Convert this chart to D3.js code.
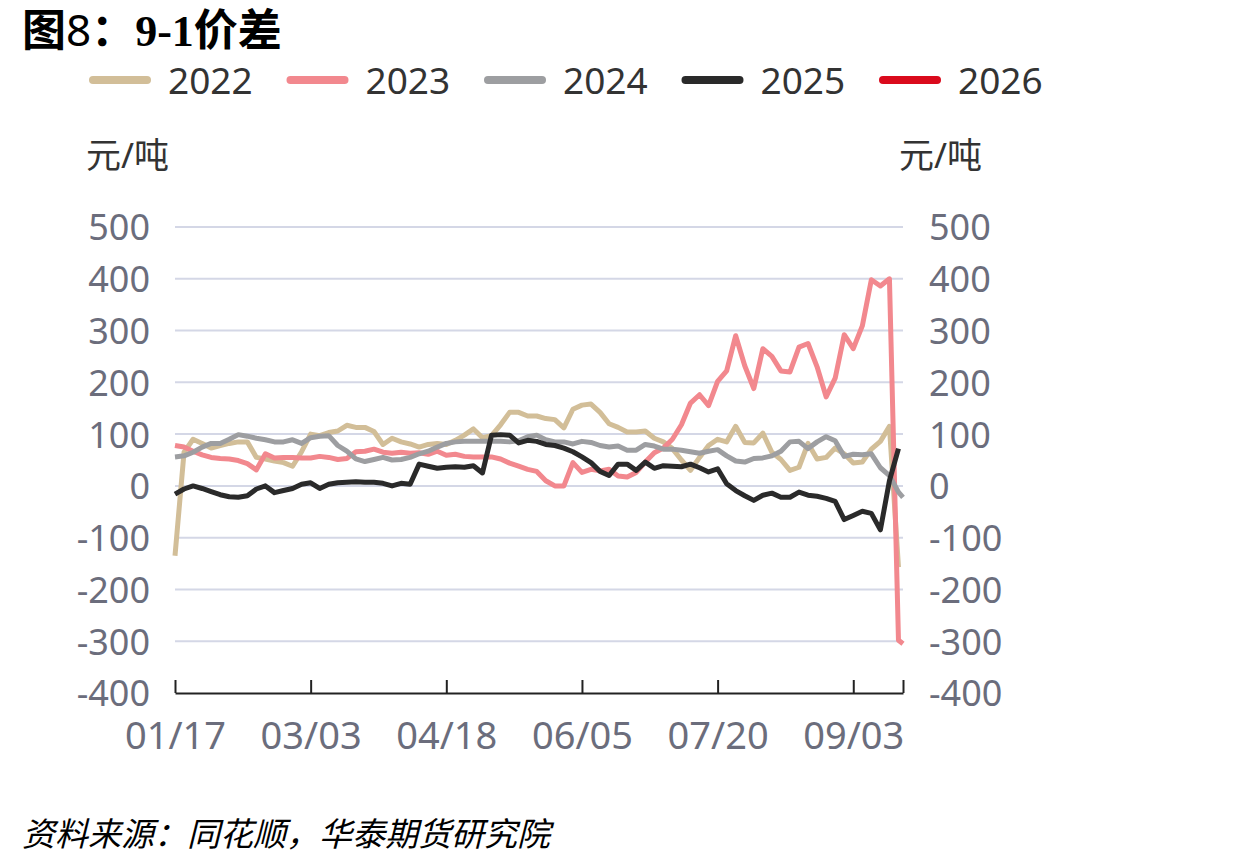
<!DOCTYPE html>
<html>
<head>
<meta charset="utf-8">
<script src="https://cdn.jsdelivr.net/npm/d3@7"></script>
<style>
  body { margin: 0; background: #fff; }
  svg text { font-family: "Noto Sans", "Noto Sans CJK SC", sans-serif; }
</style>
</head>
<body>
<svg id="chart" width="1240" height="866"></svg>
<script>
var sampleDays = d3.range(0, 161, 2).concat([161]);

// tick labels on the category axis (every 30 trading days)
var tickDays = [0, 30, 60, 90, 120, 150];
var tickLabels = ["01/17", "03/03", "04/18", "06/05", "07/20", "09/03"];

var years = ["2022", "2023", "2024", "2025", "2026"];
var colors = ["#D2BE98", "#F2888E", "#9D9EA1", "#2A2A2A", "#DA0A1C"];

// 9-1 spread, yuan/ton
var s2022 = [-135, 65, 90, 82, 73, 78, 82, 85, 85, 55,
             52, 48, 45, 38, 66, 100, 97, 103, 106, 117,
             113, 113, 105, 80, 92, 85, 81, 75, 80, 82,
             80, 88, 98, 110, 93, 97, 118, 142, 142, 135,
             135, 130, 128, 112, 148, 156, 158, 142, 120, 113,
             104, 104, 106, 92, 85, 72, 50, 30, 55, 78,
             90, 85, 115, 84, 83, 102, 65, 51, 30, 36,
             82, 52, 55, 73, 62, 44, 46, 71, 86, 115,
             -157, null];
var s2023 = [78, 75, 67, 60, 55, 53, 52, 49, 43, 31,
             62, 54, 55, 55, 54, 54, 57, 55, 51, 53,
             66, 67, 71, 65, 63, 65, 63, 64, 61, 67,
             59, 61, 57, 56, 56, 56, 52, 44, 38, 32,
             28, 10, 0, 0, 45, 26, 32, 29, 32, 19,
             17, 26, 46, 64, 73, 90, 118, 160, 176, 155,
             202, 222, 290, 232, 188, 265, 250, 222, 220, 268,
             275, 230, 172, 208, 292, 265, 309, 398, 386, 400,
             -298, -305];
var s2024 = [56, 58, 65, 75, 82, 82, 90, 99, 96, 92,
             89, 85, 85, 89, 82, 93, 96, 97, 78, 67,
             52, 47, 51, 55, 50, 51, 55, 62, 67, 75,
             82, 85, 86, 86, 86, 86, 86, 85, 87, 95,
             98, 89, 85, 85, 81, 86, 84, 78, 75, 77,
             69, 69, 80, 77, 71, 71, 69, 66, 63, 67,
             70, 58, 48, 46, 53, 54, 58, 67, 85, 86,
             72, 85, 95, 87, 57, 61, 60, 62, 35, 20,
             -12, -22];
var s2025 = [-16, -6, 0, -5, -11, -17, -21, -22, -19, -6,
             0, -13, -9, -5, 3, 6, -5, 3, 6, 7,
             8, 7, 7, 5, 0, 5, 3, 42, 38, 34,
             36, 37, 36, 39, 25, 98, 99, 98, 83, 88,
             86, 80, 78, 73, 66, 56, 45, 28, 20, 42,
             42, 30, 46, 34, 39, 38, 37, 42, 35, 27,
             33, 4, -9, -19, -28, -18, -14, -22, -22, -12,
             -18, -20, -24, -30, -65, -57, -49, -53, -85, 10,
             72, null];
var s2026 = [];

var seriesValues = [s2022, s2023, s2024, s2025, s2026];

var yTicks = [500, 400, 300, 200, 100, 0, -100, -200, -300, -400];

function drawChart() {
    var svg = d3.select("#chart");

    // plot area
    var plotLeft = 175, plotRight = 903, plotTop = 227, plotBottom = 693;

    var xScale = d3.scaleLinear().domain([0, 161]).range([plotLeft, plotRight]);
    var yScale = d3.scaleLinear().domain([-400, 500]).range([plotBottom, plotTop]);

    // plain hyphen for negatives, like the original
    var fmt = function (d) { return String(d); };

    // title
    var title = svg.append("text")
        .attr("x", 22)
        .attr("y", 46)
        .style("font-family", "'Liberation Serif', 'Noto Sans CJK SC', serif")
        .style("font-size", "44px")
        .style("font-weight", "bold")
        .attr("fill", "#000");
    title.append("tspan").style("font-family", "'Noto Sans CJK SC'").text("图");
    title.append("tspan").style("font-weight", "normal").style("font-family", "'Noto Sans'").text("8");
    title.append("tspan").style("font-family", "'Noto Sans CJK SC'").text("：");
    title.append("tspan").text("9-1");
    title.append("tspan").style("font-family", "'Noto Sans CJK SC'").text("价差");

    // legend
    var legend = svg.append("g");
    years.forEach(function (yr, i) {
        var lx = 89 + i * 197.5;
        legend.append("line")
            .attr("x1", lx + 4).attr("x2", lx + 58)
            .attr("y1", 80).attr("y2", 80)
            .attr("stroke", colors[i])
            .attr("stroke-width", 8)
            .attr("stroke-linecap", "round");
        legend.append("text")
            .attr("x", lx + 79)
            .attr("y", 94)
            .style("font-size", "37px")
            .attr("fill", "#333")
            .text(yr);
    });

    // unit labels
    svg.append("text").attr("x", 86).attr("y", 168)
        .style("font-size", "35px").attr("fill", "#333").text("元/吨");
    svg.append("text").attr("x", 899).attr("y", 168)
        .style("font-size", "35px").attr("fill", "#333").text("元/吨");

    // grid lines
    svg.append("g")
        .selectAll("line")
        .data(yTicks.filter(function (d) { return d !== -400; }))
        .enter()
        .append("line")
        .attr("x1", plotLeft).attr("x2", plotRight)
        .attr("y1", function (d) { return yScale(d); })
        .attr("y2", function (d) { return yScale(d); })
        .attr("stroke", "#D4D7E6")
        .attr("stroke-width", 2);

    // left y axis labels
    svg.append("g")
        .attr("transform", "translate(150,0)")
        .call(d3.axisLeft(yScale).tickValues(yTicks).tickFormat(fmt).tickSize(0).tickPadding(0))
        .call(function (g) { g.select(".domain").remove(); })
        .selectAll("text")
        .style("font-size", "36px")
        .style("font-family", "'Noto Sans', sans-serif")
        .attr("fill", "#6B6D7C")
        .attr("dy", "0.36em");

    // right y axis labels
    svg.append("g")
        .attr("transform", "translate(929,0)")
        .call(d3.axisRight(yScale).tickValues(yTicks).tickFormat(fmt).tickSize(0).tickPadding(0))
        .call(function (g) { g.select(".domain").remove(); })
        .selectAll("text")
        .style("font-size", "36px")
        .style("font-family", "'Noto Sans', sans-serif")
        .attr("fill", "#6B6D7C")
        .attr("dy", "0.36em");

    // x axis at the bottom, ticks pointing up
    var xAxis = svg.append("g")
        .attr("transform", "translate(0," + plotBottom + ")")
        .call(d3.axisBottom(xScale)
            .tickValues(tickDays.concat([161]))
            .tickSize(0)
            .tickFormat(function (d) {
                var k = tickDays.indexOf(d);
                return k >= 0 ? tickLabels[k] : "";
            }));
    xAxis.select(".domain").attr("stroke", "#222").attr("stroke-width", 2);
    xAxis.selectAll(".tick line")
        .attr("y1", 0).attr("y2", -13)
        .attr("stroke", "#222").attr("stroke-width", 2);
    xAxis.selectAll(".tick text")
        .attr("y", 29)
        .style("font-size", "38px")
        .style("font-family", "'Noto Sans', sans-serif")
        .attr("fill", "#6B6D7C");

    // series lines
    var line = d3.line()
        .defined(function (d) { return d.v !== null; })
        .x(function (d) { return xScale(d.day); })
        .y(function (d) { return yScale(d.v); });

    seriesValues.forEach(function (vals, i) {
        if (!vals.length) return;
        var pts = vals.map(function (v, j) { return { day: sampleDays[j], v: v }; });
        svg.append("path")
            .datum(pts)
            .attr("fill", "none")
            .attr("stroke", colors[i])
            .attr("stroke-width", 5)
            .attr("stroke-linejoin", "round")
            .attr("d", line);
    });

    // source
    svg.append("text")
        .attr("x", 22)
        .attr("y", 846)
        .style("font-size", "33px")
        .style("font-style", "italic")
        .style("font-family", "'Noto Sans CJK SC', sans-serif")
        .attr("fill", "#000")
        .text("资料来源：同花顺，华泰期货研究院");
}

drawChart();
</script>
</body>
</html>
